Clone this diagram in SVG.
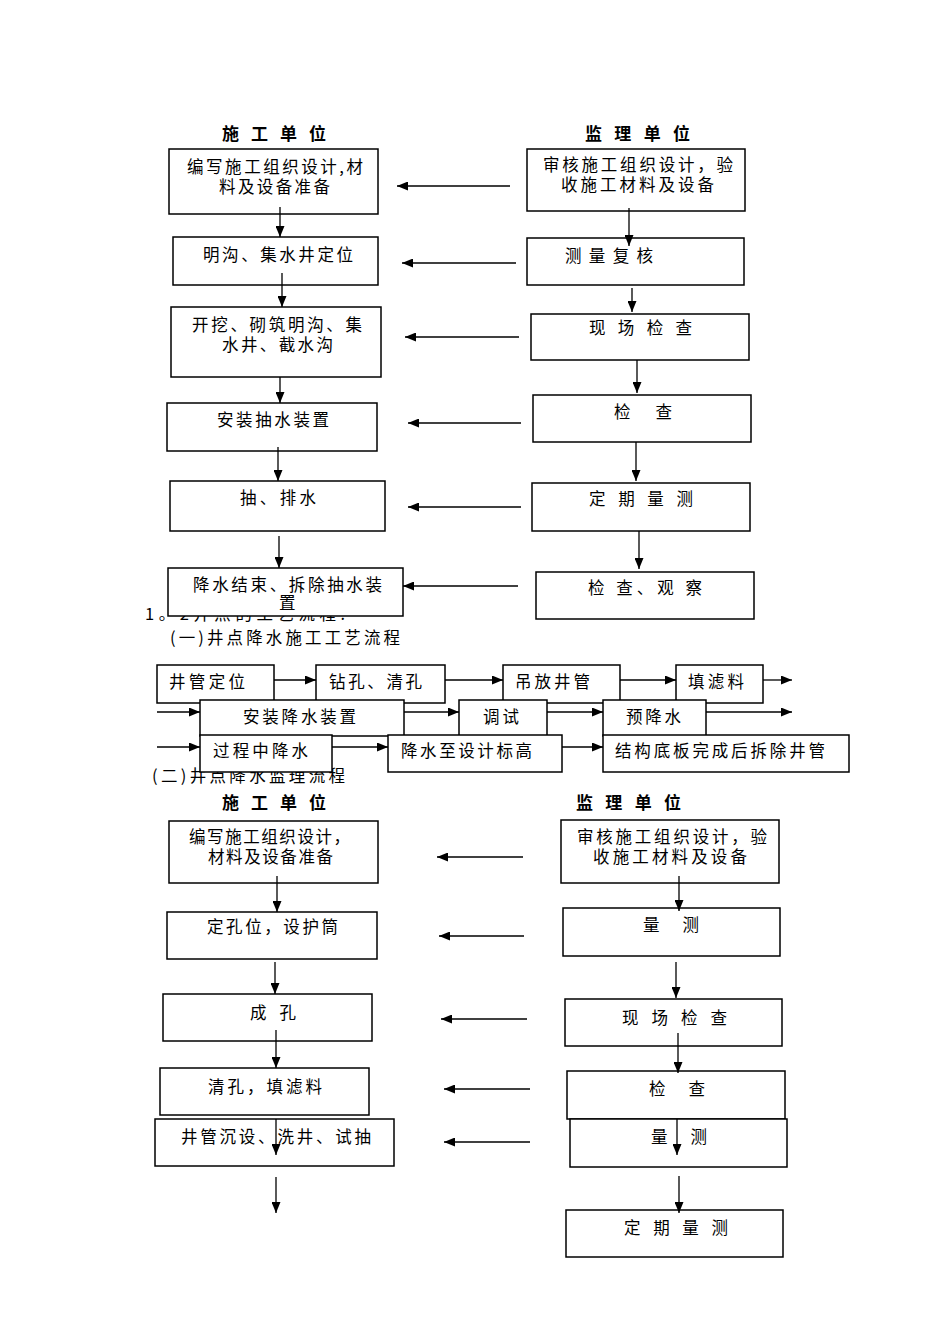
<svg xmlns="http://www.w3.org/2000/svg" width="950" height="1344" viewBox="0 0 950 1344">
<defs>
<marker id="ah" markerUnits="userSpaceOnUse" markerWidth="12" markerHeight="9" refX="11" refY="4.5" orient="auto"><path d="M0,0 L11,4.5 L0,9 z" fill="#000"/></marker>
<style>
.b{fill:#fff;stroke:#000;stroke-width:1.5}
.t{font-family:"Noto Sans CJK SC","Liberation Serif",serif;font-size:16.5px;fill:#000}
.h{font-family:"Noto Sans CJK SC","Liberation Sans",sans-serif;font-size:17px;font-weight:bold;fill:#000}
.c line{stroke:#000;stroke-width:1.3;marker-end:url(#ah)}
</style>
</defs>
<rect width="950" height="1344" fill="#fff"/>
<g id="headings">
<text class="h" x="222" y="140" textLength="104" lengthAdjust="spacing">施 工 单 位</text>
<text class="h" x="585" y="140" textLength="105" lengthAdjust="spacing">监 理 单 位</text>
<text class="t" x="145" y="620" textLength="200" lengthAdjust="spacing">1。2井点的工艺流程:</text>
<text class="t" x="170" y="644" textLength="230" lengthAdjust="spacing">(一)井点降水施工工艺流程</text>
<text class="t" x="152" y="782" textLength="193" lengthAdjust="spacing">(二)井点降水监理流程</text>
<text class="h" x="222" y="809" textLength="104" lengthAdjust="spacing">施 工 单 位</text>
<text class="h" x="576" y="809" textLength="105" lengthAdjust="spacing">监 理 单 位</text>
</g>
<g id="L1"><rect class="b" x="169" y="149" width="209" height="65"/><text class="t" x="187" y="173" textLength="176" lengthAdjust="spacing">编写施工组织设计,材</text><text class="t" x="219" y="193" textLength="111" lengthAdjust="spacing">料及设备准备</text></g>
<g id="R1"><rect class="b" x="527" y="149" width="218" height="62"/><text class="t" x="543" y="171" textLength="190" lengthAdjust="spacing">审核施工组织设计，验</text><text class="t" x="561" y="191" textLength="153" lengthAdjust="spacing">收施工材料及设备</text></g>
<g id="L2"><rect class="b" x="173" y="237" width="205" height="48"/><text class="t" x="203" y="261" textLength="150" lengthAdjust="spacing">明沟、集水井定位</text></g>
<g id="R2"><rect class="b" x="527" y="238" width="217" height="47"/><text class="t" x="565" y="262" textLength="88" lengthAdjust="spacing">测 量 复 核</text></g>
<g id="L3"><rect class="b" x="171" y="307" width="210" height="70"/><text class="t" x="192" y="331" textLength="170" lengthAdjust="spacing">开挖、砌筑明沟、集</text><text class="t" x="222" y="351" textLength="111" lengthAdjust="spacing">水井、截水沟</text></g>
<g id="R3"><rect class="b" x="531" y="314" width="218" height="46"/><text class="t" x="589" y="334" textLength="103" lengthAdjust="spacing">现 场 检 查</text></g>
<g id="L4"><rect class="b" x="167" y="403" width="210" height="48"/><text class="t" x="217" y="426" textLength="112" lengthAdjust="spacing">安装抽水装置</text></g>
<g id="R4"><rect class="b" x="533" y="395" width="218" height="47"/><text class="t" x="614" y="418" textLength="58" lengthAdjust="spacing">检　查</text></g>
<g id="L5"><rect class="b" x="170" y="481" width="215" height="50"/><text class="t" x="240" y="504" textLength="76" lengthAdjust="spacing">抽、排水</text></g>
<g id="R5"><rect class="b" x="532" y="483" width="218" height="48"/><text class="t" x="589" y="505" textLength="104" lengthAdjust="spacing">定 期 量 测</text></g>
<g id="L6"><rect class="b" x="168" y="568" width="235" height="48"/><text class="t" x="193" y="591" textLength="189" lengthAdjust="spacing">降水结束、拆除抽水装</text><text class="t" x="279" y="609">置</text></g>
<g id="R6"><rect class="b" x="536" y="572" width="218" height="47"/><text class="t" x="588" y="594" textLength="114" lengthAdjust="spacing">检 查、观 察</text></g>
<g id="M1"><rect class="b" x="157" y="665" width="117" height="38"/><text class="t" x="169" y="688" textLength="76" lengthAdjust="spacing">井管定位</text></g>
<g id="M2"><rect class="b" x="316" y="665" width="129" height="38"/><text class="t" x="329" y="688" textLength="93" lengthAdjust="spacing">钻孔、清孔</text></g>
<g id="M3"><rect class="b" x="503" y="665" width="117" height="38"/><text class="t" x="515" y="688" textLength="75" lengthAdjust="spacing">吊放井管</text></g>
<g id="M4"><rect class="b" x="676" y="665" width="87" height="38"/><text class="t" x="688" y="688" textLength="56" lengthAdjust="spacing">填滤料</text></g>
<g id="M5"><rect class="b" x="200" y="700" width="204" height="36"/><text class="t" x="243" y="723" textLength="113" lengthAdjust="spacing">安装降水装置</text></g>
<g id="M6"><rect class="b" x="459" y="700" width="88" height="36"/><text class="t" x="483" y="723" textLength="36" lengthAdjust="spacing">调试</text></g>
<g id="M7"><rect class="b" x="603" y="700" width="103" height="36"/><text class="t" x="626" y="723" textLength="55" lengthAdjust="spacing">预降水</text></g>
<g id="M8"><rect class="b" x="200" y="735" width="132" height="37"/><text class="t" x="213" y="757" textLength="95" lengthAdjust="spacing">过程中降水</text></g>
<g id="M9"><rect class="b" x="388" y="735" width="174" height="37"/><text class="t" x="401" y="757" textLength="131" lengthAdjust="spacing">降水至设计标高</text></g>
<g id="M10"><rect class="b" x="603" y="735" width="246" height="37"/><text class="t" x="615" y="757" textLength="210" lengthAdjust="spacing">结构底板完成后拆除井管</text></g>
<g id="BL1"><rect class="b" x="169" y="821" width="209" height="62"/><text class="t" x="189" y="843" textLength="161" lengthAdjust="spacing">编写施工组织设计，</text><text class="t" x="208" y="863" textLength="125" lengthAdjust="spacing">材料及设备准备</text></g>
<g id="BR1"><rect class="b" x="561" y="820" width="218" height="63"/><text class="t" x="577" y="843" textLength="190" lengthAdjust="spacing">审核施工组织设计，验</text><text class="t" x="593" y="863" textLength="154" lengthAdjust="spacing">收施工材料及设备</text></g>
<g id="BL2"><rect class="b" x="167" y="912" width="210" height="47"/><text class="t" x="207" y="933" textLength="131" lengthAdjust="spacing">定孔位，设护筒</text></g>
<g id="BR2"><rect class="b" x="563" y="908" width="217" height="48"/><text class="t" x="643" y="931" textLength="56" lengthAdjust="spacing">量　测</text></g>
<g id="BL3"><rect class="b" x="163" y="994" width="209" height="47"/><text class="t" x="250" y="1019" textLength="46" lengthAdjust="spacing">成 孔</text></g>
<g id="BR3"><rect class="b" x="565" y="999" width="217" height="47"/><text class="t" x="622" y="1024" textLength="105" lengthAdjust="spacing">现 场 检 查</text></g>
<g id="BL4"><rect class="b" x="160" y="1068" width="209" height="47"/><text class="t" x="208" y="1093" textLength="114" lengthAdjust="spacing">清孔，填滤料</text></g>
<g id="BR4"><rect class="b" x="567" y="1071" width="218" height="48"/><text class="t" x="649" y="1095" textLength="56" lengthAdjust="spacing">检　查</text></g>
<g id="BL5"><rect class="b" x="155" y="1119" width="239" height="47"/><text class="t" x="181" y="1143" textLength="190" lengthAdjust="spacing">井管沉设、洗井、试抽</text></g>
<g id="BR5"><rect class="b" x="570" y="1119" width="217" height="48"/><text class="t" x="651" y="1143" textLength="56" lengthAdjust="spacing">量　测</text></g>
<g id="BR6"><rect class="b" x="566" y="1210" width="217" height="47"/><text class="t" x="624" y="1234" textLength="104" lengthAdjust="spacing">定 期 量 测</text></g>
<g id="connectors" class="c">
<line x1="510" y1="186" x2="397" y2="186"/>
<line x1="516" y1="263" x2="402" y2="263"/>
<line x1="519" y1="337" x2="405" y2="337"/>
<line x1="521" y1="423" x2="408" y2="423"/>
<line x1="521" y1="507" x2="408" y2="507"/>
<line x1="518" y1="586" x2="403" y2="586"/>
<line x1="280" y1="207" x2="280" y2="237"/>
<line x1="282" y1="273" x2="282" y2="307"/>
<line x1="280" y1="377" x2="280" y2="403"/>
<line x1="278" y1="447" x2="278" y2="481"/>
<line x1="279" y1="536" x2="279" y2="568"/>
<line x1="629" y1="208" x2="629" y2="246"/>
<line x1="632" y1="288" x2="632" y2="312"/>
<line x1="637" y1="360" x2="637" y2="393"/>
<line x1="636" y1="442" x2="636" y2="481"/>
<line x1="639" y1="531" x2="639" y2="569"/>
<line x1="274" y1="680" x2="316" y2="680"/>
<line x1="445" y1="680" x2="503" y2="680"/>
<line x1="620" y1="680" x2="676" y2="680"/>
<line x1="763" y1="680" x2="792" y2="680"/>
<line x1="157" y1="712" x2="200" y2="712"/>
<line x1="404" y1="712" x2="459" y2="712"/>
<line x1="547" y1="712" x2="603" y2="712"/>
<line x1="706" y1="712" x2="792" y2="712"/>
<line x1="157" y1="747" x2="200" y2="747"/>
<line x1="332" y1="747" x2="388" y2="747"/>
<line x1="562" y1="747" x2="603" y2="747"/>
<line x1="523" y1="857" x2="437" y2="857"/>
<line x1="524" y1="936" x2="439" y2="936"/>
<line x1="527" y1="1019" x2="441" y2="1019"/>
<line x1="530" y1="1089" x2="444" y2="1089"/>
<line x1="530" y1="1142" x2="444" y2="1142"/>
<line x1="277" y1="876" x2="277" y2="912"/>
<line x1="679" y1="876" x2="679" y2="911"/>
<line x1="275" y1="962" x2="275" y2="994"/>
<line x1="676" y1="962" x2="676" y2="998"/>
<line x1="276" y1="1030" x2="276" y2="1068"/>
<line x1="678" y1="1033" x2="678" y2="1073"/>
<line x1="276" y1="1119" x2="276" y2="1155"/>
<line x1="677" y1="1119" x2="677" y2="1155"/>
<line x1="276" y1="1177" x2="276" y2="1213"/>
<line x1="679" y1="1176" x2="679" y2="1213"/>
</g>
</svg>
